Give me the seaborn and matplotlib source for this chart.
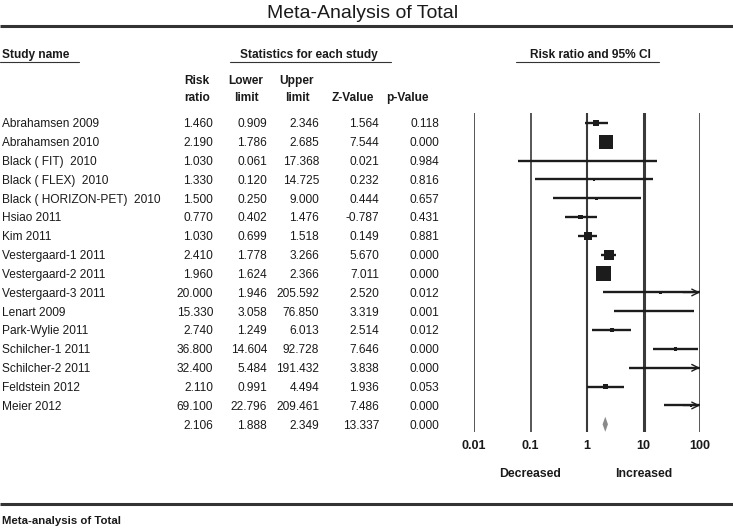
import matplotlib
matplotlib.use('Agg')
import numpy as np
import pandas as pd
import matplotlib.pyplot as plt
import seaborn as sns
from matplotlib.transforms import blended_transform_factory

# study table
studies = ['Abrahamsen 2009', 'Abrahamsen 2010', 'Black ( FIT)  2010', 'Black ( FLEX)  2010',
           'Black ( HORIZON-PET)  2010', 'Hsiao 2011', 'Kim 2011', 'Vestergaard-1 2011',
           'Vestergaard-2 2011', 'Vestergaard-3 2011', 'Lenart 2009', 'Park-Wylie 2011',
           'Schilcher-1 2011', 'Schilcher-2 2011', 'Feldstein 2012', 'Meier 2012']
risk_ratio = [1.460, 2.190, 1.030, 1.330, 1.500, 0.770, 1.030, 2.410, 1.960, 20.000,
              15.330, 2.740, 36.800, 32.400, 2.110, 69.100]
lower = [0.909, 1.786, 0.061, 0.120, 0.250, 0.402, 0.699, 1.778, 1.624, 1.946,
         3.058, 1.249, 14.604, 5.484, 0.991, 22.796]
upper = [2.346, 2.685, 17.368, 14.725, 9.000, 1.476, 1.518, 3.266, 2.366, 205.592,
         76.850, 6.013, 92.728, 191.432, 4.494, 209.461]
z_value = [1.564, 7.544, 0.021, 0.232, 0.444, -0.787, 0.149, 5.670, 7.011, 2.520,
           3.319, 2.514, 7.646, 3.838, 1.936, 7.486]
p_value = [0.118, 0.000, 0.984, 0.816, 0.657, 0.431, 0.881, 0.000, 0.000, 0.012,
           0.001, 0.012, 0.000, 0.000, 0.053, 0.000]
# relative weights (box area) estimated from the square sizes
weights = [36, 196, 3, 8, 9, 18, 60, 100, 245, 5, 5, 18, 13, 5, 22, 7]

# pooled estimate
pooled = dict(rr=2.106, lo=1.888, up=2.349, z=13.337, p=0.000)

ticks = [0.01, 0.1, 1, 10, 100]
tick_labels = ['0.01', '0.1', '1', '10', '100']

W, H = 733, 528
sns.set_theme(style='white')
plt.rcParams['font.family'] = ['Liberation Sans', 'DejaVu Sans']

fig = plt.figure(figsize=(W / 100, H / 100), dpi=100)

# background axes in pixel coordinates for the table text and rules
bg = fig.add_axes([0, 0, 1, 1])
bg.set_xlim(0, W)
bg.set_ylim(H, 0)
bg.axis('off')

# forest plot axes
row0, step = 123, 18.83
top_px, bot_px = 113, 432
fx = fig.add_axes([474 / W, (H - bot_px) / H, 226 / W, (bot_px - top_px) / H])
fx.set_xscale('log')
fx.set_xlim(0.01, 100)
fx.set_ylim((bot_px - row0) / step, (top_px - row0) / step)
fx.patch.set_alpha(0)
sns.despine(ax=fx, left=True, bottom=True)

dark = '#1c1c1c'
line_c = '#3a3a3a'
txt_c = '#1a1a1a'
fs = 8.6

# title and rules
bg.text(363, 18.3, 'Meta-Analysis of Total', ha='center', va='baseline', fontsize=14, color=txt_c)
bg.plot([0, W], [25.5, 25.5], color='#333', lw=2.2, solid_capstyle='butt')
bg.plot([0, W], [504, 504], color='#333', lw=2.2, solid_capstyle='butt')
bg.text(2, 524, 'Meta-analysis of Total', ha='left', va='baseline', fontsize=8.2,
        fontweight='bold', color=txt_c)

# section headers
for txt, cx, x0, x1, ha in [('Study name', 2, 0, 79, 'left'),
                            ('Statistics for each study', 309, 230, 391, 'center'),
                            ('Risk ratio and 95% CI', 590, 516, 659, 'center')]:
    bg.text(cx, 58.3, txt, ha=ha, va='baseline', fontsize=fs, fontweight='bold', color=txt_c)
    bg.plot([x0, x1], [61.5, 61.5], color='#333', lw=0.8)

col_right = [213, 267, 319, 379, 439]
headers = [('Risk', 'ratio', 197), ('Lower', 'limit', 246), ('Upper', 'limit', 297),
           ('', 'Z-Value', 353), ('', 'p-Value', 407)]
for l1, l2, cx in headers:
    if l1:
        bg.text(cx, 84, l1, ha='center', va='baseline', fontsize=fs, fontweight='bold', color=txt_c)
    bg.text(cx, 101, l2, ha='center', va='baseline', fontsize=fs, fontweight='bold', color=txt_c)

# table rows, y shared with the forest axes
tr = blended_transform_factory(bg.transData, fx.transData)
names = studies + ['']
cols = [risk_ratio + [pooled['rr']], lower + [pooled['lo']], upper + [pooled['up']],
        z_value + [pooled['z']], p_value + [pooled['p']]]
base = 4.3 / step
for i, name in enumerate(names):
    if name:
        bg.text(2, i + base, name, transform=tr, ha='left', va='baseline', fontsize=fs, color=txt_c)
    for xr, col in zip(col_right, cols):
        bg.text(xr, i + base, f'{col[i]:.3f}', transform=tr, ha='right', va='baseline',
                fontsize=fs, color=txt_c)

# reference lines
for t, lw in zip(ticks, [1.2, 1.2, 1.5, 2.2, 1.2]):
    fx.axvline(t, color=line_c, lw=lw, zorder=1)

df = pd.DataFrame(dict(study=studies, rr=risk_ratio, lo=lower, up=upper, w=weights))
df['row'] = np.arange(len(df))

# confidence intervals, open arrow heads where they run off the scale
for _, r in df.iterrows():
    fx.hlines(r.row, r.lo, min(r.up, 100), color=dark, lw=1.7, zorder=2)
    if r.up > 100:
        fx.annotate('', xy=(100, r.row), xytext=(50, r.row),
                    arrowprops=dict(arrowstyle='->', color=dark, lw=1.0, mutation_scale=12,
                                    shrinkA=0, shrinkB=0), annotation_clip=False)

wmin, wmax = min(weights), max(weights)
sns.scatterplot(data=df, x='rr', y='row', size='w', sizes=(wmin * 0.5184, wmax * 0.5184),
                marker='s', color=dark, edgecolor='none', linewidth=0, legend=False,
                ax=fx, zorder=3)

# pooled diamond
yp = len(studies)
fx.fill([pooled['lo'], pooled['rr'], pooled['up'], pooled['rr']],
        [yp, yp - 0.4, yp, yp + 0.4], color='#8a8a8a', lw=0, zorder=3)

fx.set_xticks(ticks, labels=tick_labels)
fx.xaxis.set_minor_locator(matplotlib.ticker.NullLocator())
fx.set_yticks([])
fx.set_xlabel('')
fx.set_ylabel('')
fx.tick_params(axis='x', length=0, pad=5.5, labelsize=9)
for lab in fx.get_xticklabels():
    lab.set_fontweight('bold')
    lab.set_color(txt_c)

tb = blended_transform_factory(fx.transData, bg.transData)
fx.text(0.1, 477, 'Decreased', transform=tb, ha='center', va='baseline', fontsize=8.8,
        fontweight='bold', color=txt_c)
fx.text(10, 477, 'Increased', transform=tb, ha='center', va='baseline', fontsize=8.8,
        fontweight='bold', color=txt_c)

fig.savefig('out.png', dpi=100)
